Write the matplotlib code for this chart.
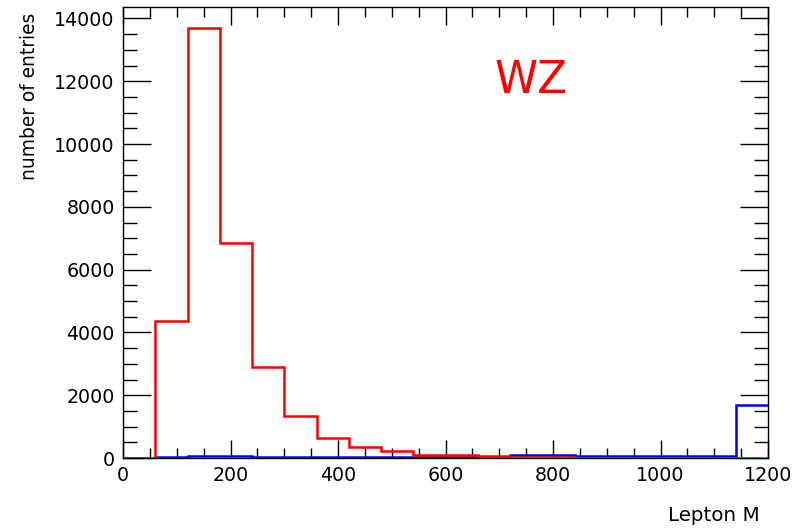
import numpy as np
import matplotlib
matplotlib.use("Agg")
import matplotlib.pyplot as plt
from matplotlib.ticker import MultipleLocator

bin_edges = list(range(0, 1260, 60))
red_counts = [0, 4350, 13680, 6850, 2900, 1330, 650, 340, 223, 111,
              80, 64, 35, 35, 10, 10, 10, 10, 10, 0]
blue_counts = [0, 30, 60, 60, 30, 30, 30, 30, 30, 30,
               30, 0, 80, 80, 70, 70, 70, 70, 70, 1700]
x_label = "Lepton M"
y_label = "number of entries"
title_text = "WZ"

plt.rcParams['font.family'] = ['DejaVu Sans']

fig = plt.figure(figsize=(8.06, 5.28), dpi=100)
ax = fig.add_axes([123/806, 1-458/528, (768-123)/806, (458-7)/528])

ax.stairs(blue_counts, bin_edges, color='#0000ff', lw=1.8, baseline=None, zorder=3)
ax.stairs(red_counts, bin_edges, color='#ff0000', lw=1.8, baseline=None, zorder=3)

ax.set_xlim(0, 1200)
ax.set_ylim(0, 14364)

ax.xaxis.set_major_locator(MultipleLocator(200))
ax.xaxis.set_minor_locator(MultipleLocator(50))
ax.yaxis.set_major_locator(MultipleLocator(2000))
ax.yaxis.set_minor_locator(MultipleLocator(500))

ax.tick_params(axis='both', which='both', direction='in', top=True, right=True,
               labelsize=13.7, width=1, color='black')
ax.tick_params(axis='x', which='major', length=13, pad=6)
ax.tick_params(axis='x', which='minor', length=7)
ax.tick_params(axis='y', which='major', length=20, pad=6)
ax.tick_params(axis='y', which='minor', length=10)

for s in ax.spines.values():
    s.set_linewidth(1)

ax.set_xlabel(x_label, fontsize=14.3, loc='right')
ax.xaxis.set_label_coords((760-123)/645, (458-506)/451)
ax.set_ylabel(y_label, fontsize=13.4, loc='top')
ax.yaxis.set_label_coords((39-123)/645, (458-13)/451)

ax.text(760, 12030, title_text, color='#ff0000', fontsize=31.4,
        ha='center', va='center')

fig.savefig("out.png", dpi=100)
